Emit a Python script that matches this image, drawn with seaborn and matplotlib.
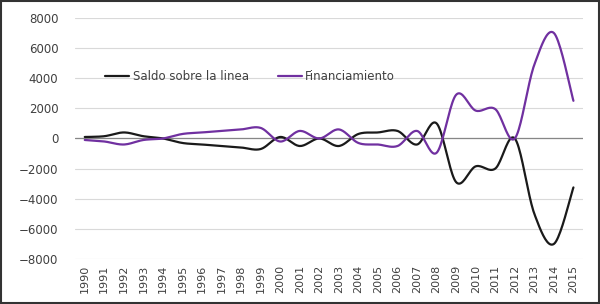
import numpy as np
import pandas as pd
import matplotlib
matplotlib.use("Agg")
import matplotlib.pyplot as plt
import seaborn as sns

years = list(range(1990, 2016))
saldo = [100, 150, 400, 150, 0, -300, -400, -500, -600, -700, 100, -500, 0, -500,
         300, 400, 500, -400, 1000, -2900, -1850, -2000, 0, -5000, -7000, -3250]
financiamiento = [-100, -200, -400, -100, 0, 300, 400, 500, 600, 700, -200, 500, 0, 600,
                  -300, -400, -500, 500, -950, 2900, 1850, 1950, 0, 4900, 7000, 2500]


def suavizar(x, y, n=20):
    # curva tipo Excel (Catmull-Rom) solo para dibujar
    x = np.asarray(x, float)
    y = np.asarray(y, float)
    px = np.concatenate([[x[0]], x, [x[-1]]])
    py = np.concatenate([[y[0]], y, [y[-1]]])
    t = np.linspace(0, 1, n, endpoint=False)
    xs, ys = [], []
    for i in range(1, len(px) - 2):
        for p, out in ((px, xs), (py, ys)):
            p0, p1, p2, p3 = p[i - 1], p[i], p[i + 1], p[i + 2]
            out.extend(0.5 * (2 * p1 + (-p0 + p2) * t + (2 * p0 - 5 * p1 + 4 * p2 - p3) * t ** 2
                              + (-p0 + 3 * p1 - 3 * p2 + p3) * t ** 3))
    xs.append(x[-1])
    ys.append(y[-1])
    return np.array(xs), np.array(ys)


idx = np.arange(len(years))
filas = []
for nombre, serie in (("Saldo sobre la linea", saldo), ("Financiamiento", financiamiento)):
    xs, ys = suavizar(idx, serie)
    filas.append(pd.DataFrame({"x": xs, "valor": ys, "serie": nombre}))
df = pd.concat(filas, ignore_index=True)

sns.set_style("white")
plt.rcParams['font.family'] = ['DejaVu Sans']

fig = plt.figure(figsize=(6, 3.04), dpi=100)
ax = fig.add_axes([0.125, 0.148, 0.847, 0.793])

ax.set_yticks(np.arange(-8000, 8001, 2000))
ax.grid(axis="y", color="#d9d9d9", linewidth=0.8)
ax.set_axisbelow(True)
ax.axhline(0, color="#868686", linewidth=0.9, zorder=1)

sns.lineplot(data=df, x="x", y="valor", hue="serie", sort=False,
             palette={"Saldo sobre la linea": "#1a1a1a", "Financiamiento": "#7030a0"},
             linewidth=1.6, ax=ax)

ax.set_xlim(-0.5, len(years) - 0.5)
ax.set_ylim(-8000, 8000)
ax.set_xticks(idx)
ax.set_xticklabels(years, rotation=90, fontsize=8, color="#404040")
ax.tick_params(axis="y", labelsize=8.5, colors="#404040", length=0, pad=12)
ax.tick_params(axis="x", length=0, pad=4)
ax.set_xlabel("")
ax.set_ylabel("")
for s in ax.spines.values():
    s.set_visible(False)

ax.legend(loc="center", bbox_to_anchor=(0.345, 0.755), ncol=2, frameon=False,
          fontsize=8.5, handlelength=2.0, handletextpad=0.3, columnspacing=2.5,
          labelcolor="#404040")

fig.patches.append(plt.Rectangle((0.002, 0.003), 0.996, 0.994, transform=fig.transFigure,
                                 fill=False, edgecolor="#333333", linewidth=1.5))
fig.savefig("out.png", dpi=100)
